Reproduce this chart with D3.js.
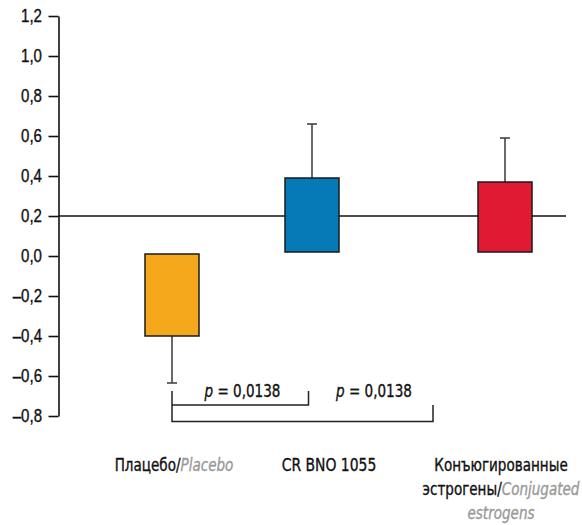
<!DOCTYPE html>
<html>
<head>
<meta charset="utf-8">
<style>
  body { margin: 0; background: #fff; }
  svg { display: block; font-family: "DejaVu Sans Condensed", "DejaVu Sans", sans-serif; }
  text { stroke-width: 0.35px; }
</style>
</head>
<body>
<svg width="582" height="525"></svg>
<script src="https://d3js.org/d3.v7.min.js"></script>
<script>
// data
const categories = ["Плацебо", "CR BNO 1055", "Конъюгированные эстрогены"];
const barStart = [0.01, 0.02, 0.02];
const barEnd = [-0.40, 0.39, 0.37];
const errorEnd = [-0.635, 0.66, 0.59];
const barColors = ["#F6A81D", "#0679B7", "#E01A32"];
const yTicks = [-0.8, -0.6, -0.4, -0.2, 0.0, 0.2, 0.4, 0.6, 0.8, 1.0, 1.2];
const refValue = 0.2;
const pLabels = ["0,0138", "0,0138"];

const svg = d3.select("svg");
const narrow = 0.86;   // squeeze text horizontally, the original uses a condensed face

const y = d3.scaleLinear().domain([-0.8, 1.2]).range([416, 16]);
// bar centres (uneven spacing as in the original)
const x = d3.scaleOrdinal().domain(categories).range([172, 312, 505]);
const xLabel = d3.scaleOrdinal().domain(categories).range([174, 329, 501]);
const barW = 54;
const axisX = 58.5;

const fmt = v => d3.format(".1f")(v).replace(".", ",").replace("−", "–").replace("-", "–");

// y axis
const yAxis = svg.append("g")
  .attr("transform", `translate(${axisX},0)`)
  .call(d3.axisLeft(y).tickValues(yTicks).tickFormat(fmt).tickSize(10).tickPadding(6).tickSizeOuter(0));
yAxis.select(".domain").attr("stroke", "#111").attr("stroke-width", 1.6);
yAxis.selectAll(".tick line").attr("stroke", "#111").attr("stroke-width", 1.6);
yAxis.selectAll(".tick text")
  .attr("fill", "#111").attr("stroke", "#111")
  .attr("font-size", 17.5).attr("font-family", "inherit")
  .attr("x", 0)
  .attr("transform", `translate(-16.5,0) scale(${narrow},1)`);

// reference line
svg.append("line")
  .attr("x1", axisX).attr("x2", 566)
  .attr("y1", y(refValue)).attr("y2", y(refValue))
  .attr("stroke", "#111").attr("stroke-width", 1.5);

const idx = d3.range(categories.length);

// error bars
svg.selectAll(".err").data(idx).enter().append("line")
  .attr("x1", i => x(categories[i])).attr("x2", i => x(categories[i]))
  .attr("y1", i => y(barEnd[i])).attr("y2", i => y(errorEnd[i]))
  .attr("stroke", "#444").attr("stroke-width", 1.6);
svg.selectAll(".cap").data(idx).enter().append("line")
  .attr("x1", i => x(categories[i]) - 5).attr("x2", i => x(categories[i]) + 5)
  .attr("y1", i => y(errorEnd[i])).attr("y2", i => y(errorEnd[i]))
  .attr("stroke", "#444").attr("stroke-width", 1.6);

// bars
svg.selectAll(".bar").data(idx).enter().append("rect")
  .attr("x", i => x(categories[i]) - barW / 2)
  .attr("width", barW)
  .attr("y", i => y(Math.max(barStart[i], barEnd[i])))
  .attr("height", i => Math.abs(y(barStart[i]) - y(barEnd[i])))
  .attr("fill", i => barColors[i])
  .attr("stroke", "#1a1a1a").attr("stroke-width", 1.5);

// significance brackets
const x0 = x(categories[0]);
const br = svg.append("g").attr("stroke", "#222").attr("stroke-width", 1.5).attr("fill", "none");
const lvl1 = y(-0.745), lvl2 = y(-0.828), brTop = y(-0.675);
br.append("path").attr("d", `M${x0},${brTop}V${lvl2}H433V${lvl1}`);
br.append("path").attr("d", `M${x0},${lvl1}H308.5V${brTop}`);

const pText = svg.selectAll(".ptxt").data(pLabels).enter().append("text")
  .attr("transform", (d, i) => `translate(${i === 0 ? 242.5 : 374},${lvl1 - 8}) scale(${narrow},1)`)
  .attr("text-anchor", "middle")
  .attr("font-size", 17.5).attr("fill", "#111").attr("stroke", "#111");
pText.append("tspan").attr("font-style", "italic").text("p");
pText.append("tspan").text(d => " = " + d);

// category labels
function label(cx, base, parts, size) {
  const t = svg.append("text")
    .attr("transform", `translate(${cx},${base}) scale(${narrow},1)`)
    .attr("text-anchor", "middle").attr("font-size", size || 18);
  parts.forEach(p => {
    const c = p.grey ? "#999" : "#111";
    t.append("tspan").attr("fill", c).attr("stroke", c)
      .attr("font-style", p.grey ? "italic" : null).text(p.s);
  });
}
label(xLabel(categories[0]), 471, [{s: "Плацебо/"}, {s: "Placebo", grey: true}], 17.5);
label(xLabel(categories[1]), 471, [{s: categories[1]}]);
label(xLabel(categories[2]), 471, [{s: "Конъюгированные"}], 17.5);
label(xLabel(categories[2]), 495, [{s: "эстрогены/"}, {s: "Conjugated", grey: true}], 17.5);
label(xLabel(categories[2]), 519, [{s: "estrogens", grey: true}], 17.5);
</script>
</body>
</html>
